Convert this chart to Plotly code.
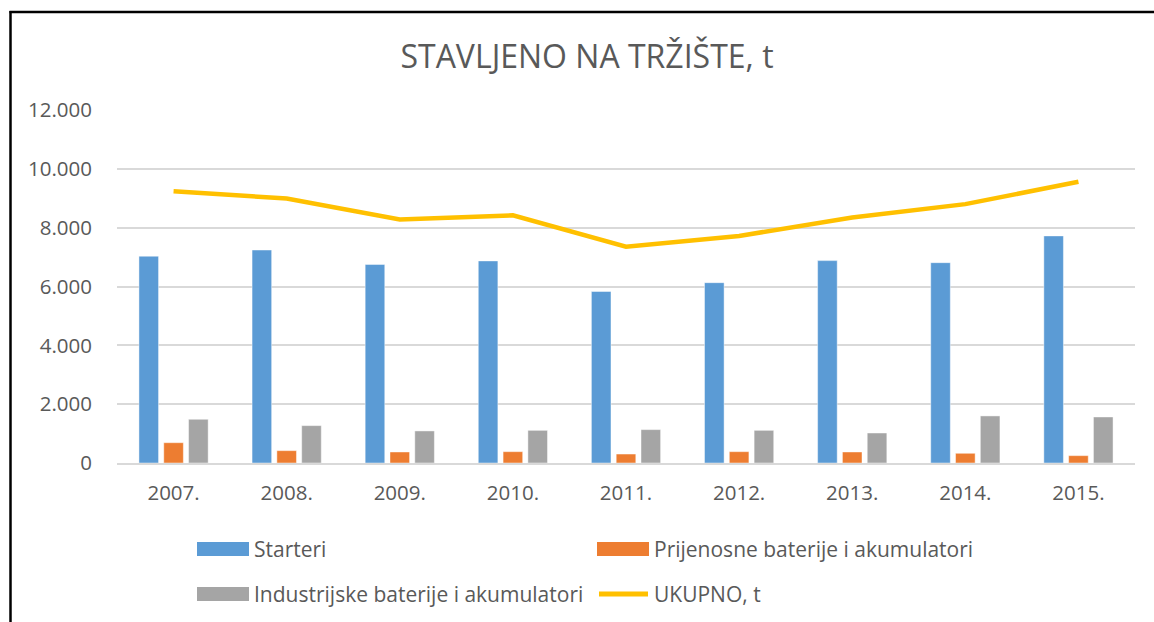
import plotly.graph_objects as go

years = ["2007.", "2008.", "2009.", "2010.", "2011.", "2012.", "2013.", "2014.", "2015."]
starteri = [7030, 7240, 6750, 6870, 5830, 6130, 6880, 6810, 7720]
prijenosne = [690, 420, 375, 385, 305, 385, 375, 330, 250]
industrijske = [1485, 1270, 1090, 1110, 1135, 1110, 1020, 1600, 1565]
ukupno = [9240, 8990, 8280, 8420, 7350, 7720, 8345, 8800, 9560]
ytick_vals = [0, 2000, 4000, 6000, 8000, 10000, 12000]
ytick_text = ["0", "2.000", "4.000", "6.000", "8.000", "10.000", "12.000"]
names = ["Starteri", "Prijenosne baterije i akumulatori",
         "Industrijske baterije i akumulatori", "UKUPNO, t"]
colors = ["#5B9BD5", "#ED7D31", "#A5A5A5", "#FFC000"]

W, H = 1154, 622
L, R, T, B = 117, 1135, 110, 463
FONT = "Open Sans"
TXT = "#595959"


def px(x):
    return (x - L) / (R - L)


def py(y):
    return (B - y) / (B - T)


fig = go.Figure()
for vals, name, col in zip([starteri, prijenosne, industrijske], names[:3], colors[:3]):
    fig.add_trace(go.Bar(x=years, y=vals, name=name, marker_color=col,
                         marker_line=dict(color="rgba(255,255,255,0.45)", width=1),
                         showlegend=False))
fig.add_trace(go.Scatter(x=years, y=ukupno, name=names[3], mode="lines",
                         line=dict(color=colors[3], width=4.5), showlegend=False))

shapes = []
annotations = []
# border (chart area frame, cropped at right/bottom)
shapes.append(dict(type="line", xref="paper", yref="paper", x0=px(10.5), x1=px(10.5),
                   y0=py(11), y1=py(640), line=dict(color="black", width=2.5)))
shapes.append(dict(type="line", xref="paper", yref="paper", x0=px(9.5), x1=px(1170),
                   y0=py(12), y1=py(12), line=dict(color="black", width=2.5)))

# manual legend
leg = [(197, 549, 0), (597, 549, 1), (197, 594, 2), (597, 594, 3)]
for x0, yc, i in leg:
    if i < 3:
        shapes.append(dict(type="rect", xref="paper", yref="paper",
                           x0=px(x0), x1=px(x0 + 52), y0=py(yc - 7), y1=py(yc + 7),
                           fillcolor=colors[i], line=dict(width=0)))
    else:
        shapes.append(dict(type="line", xref="paper", yref="paper",
                           x0=px(x0 + 2), x1=px(x0 + 51), y0=py(yc), y1=py(yc),
                           line=dict(color=colors[i], width=5)))
    annotations.append(dict(text=names[i], xref="paper", yref="paper",
                            x=px(x0 + 55), y=py(yc), xanchor="left", yanchor="middle",
                            showarrow=False, font=dict(family=FONT, size=21, color=TXT)))

fig.update_layout(
    width=W, height=H,
    margin=dict(l=L, r=W - R, t=T, b=H - B, pad=0),
    paper_bgcolor="white", plot_bgcolor="white",
    barmode="group", bargap=0.342, bargroupgap=0.21,
    title=dict(text="STAVLJENO NA TRŽIŠTE, t", x=587 / W, xanchor="center",
               y=1 - 57 / H, yanchor="middle", xref="container", yref="container",
               font=dict(family=FONT, size=32, color=TXT)),
    shapes=shapes, annotations=annotations,
    showlegend=False,
)
fig.update_xaxes(showgrid=False, showline=True, linecolor="#D9D9D9", linewidth=1.5,
                 ticks="", ticklabelstandoff=11,
                 tickfont=dict(family=FONT, size=20.5, color=TXT))
fig.update_yaxes(range=[0, 12000], tickvals=ytick_vals, ticktext=ytick_text,
                 showgrid=True, gridcolor="#D9D9D9", gridwidth=1.5, zeroline=False,
                 showline=False, ticks="", ticklabelstandoff=24,
                 tickfont=dict(family=FONT, size=20.5, color=TXT))

fig.write_html("out.html", config={"displayModeBar": False},
               post_script="document.body.style.margin='0';")
